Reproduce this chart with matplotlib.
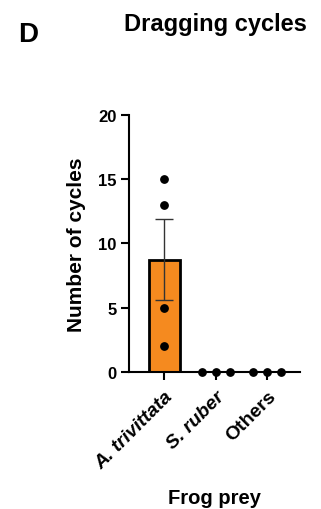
import matplotlib.pyplot as plt
import numpy as np

plt.rcParams['font.family'] = ['Liberation Sans', 'DejaVu Sans']

categories = ['A. trivittata', 'S. ruber', 'Others']
italic = [True, True, False]
values = [
    [15, 13, 5, 2],
    [0, 0, 0],
    [0, 0, 0],
]
# horizontal scatter offsets per group (in category units)
offsets = [
    [0, 0, 0, 0],
    [-0.27, 0, 0.27],
    [-0.27, 0, 0.27],
]

means = [np.mean(v) for v in values]
sems = [np.std(v, ddof=1) / np.sqrt(len(v)) for v in values]

fig = plt.figure(figsize=(3.21, 5.10), dpi=100)
ax = fig.add_axes([0.402, 0.2686, 0.533, 0.504])

x = np.arange(len(categories))
ax.bar(x[:1], means[:1], width=0.6, color='#F58A1F', edgecolor='black', linewidth=2, zorder=2)
ax.errorbar(x[:1], means[:1], yerr=sems[:1], fmt='none', ecolor='#333333',
            elinewidth=1, capsize=6.5, capthick=1, zorder=3)

for i, v in enumerate(values):
    ax.scatter(x[i] + np.array(offsets[i]), v, s=28, color='black', zorder=4, clip_on=False)

ax.set_xlim(-0.68, 2.64)
ax.set_ylim(0, 20)
ax.set_yticks([0, 5, 10, 15, 20])
ax.set_xticks(x)
ax.set_xticklabels(categories, rotation=45, ha='right', rotation_mode='anchor')
for lbl, it in zip(ax.get_xticklabels(), italic):
    lbl.set_fontsize(14)
    lbl.set_fontweight('bold')
    if it:
        lbl.set_style('italic')
for lbl in ax.get_yticklabels():
    lbl.set_fontsize(12)
    lbl.set_fontweight('bold')

ax.spines['top'].set_visible(False)
ax.spines['right'].set_visible(False)
ax.spines['left'].set_linewidth(1.5)
ax.spines['bottom'].set_linewidth(1.5)
ax.tick_params(width=1.5, length=6)
ax.tick_params(axis='x', pad=5)
ax.tick_params(axis='y', pad=3)

ax.set_ylabel('Number of cycles', fontsize=15, fontweight='bold', labelpad=9)
ax.set_xlabel('Frog prey', fontsize=14.5, fontweight='bold', labelpad=12)

fig.text(0.671, 0.951, 'Dragging cycles', ha='center', va='center', fontsize=17, fontweight='bold')
fig.text(0.087, 0.931, 'D', ha='center', va='center', fontsize=20, fontweight='bold')

fig.savefig('out.png', dpi=100, facecolor='white')
